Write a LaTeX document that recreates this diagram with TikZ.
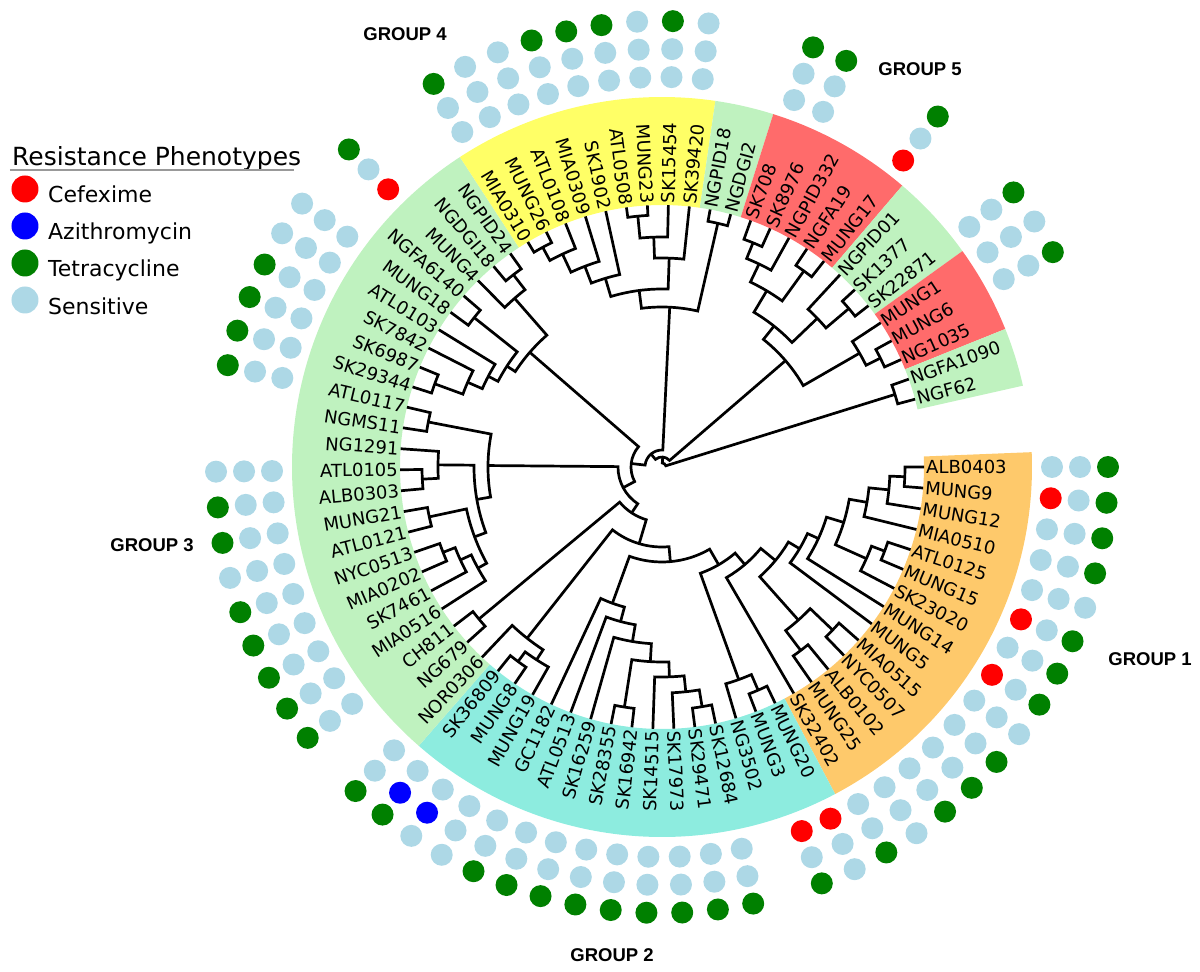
\documentclass[tikz,border=0pt]{standalone}
\usepackage{fontspec}
\setmainfont{DejaVu Sans}
\newfontfamily\grpfont{Liberation Sans}
\usetikzlibrary{calc}

\definecolor{bandorange}{HTML}{FEC96B}
\definecolor{bandcyan}{HTML}{8DECDF}
\definecolor{bandgreen}{HTML}{BFF2BF}
\definecolor{bandyellow}{HTML}{FFFF66}
\definecolor{bandred}{HTML}{FF6B6B}
\definecolor{dotS}{HTML}{ADD8E6}
\definecolor{dotT}{HTML}{008000}
\definecolor{dotC}{HTML}{FF0000}
\definecolor{dotA}{HTML}{0000FF}

% \clade{name}{radius}{child a}{child b}
\newcommand{\clade}[4]{%
  \pgfmathsetmacro\cla{\csname angl#3\endcsname}%
  \pgfmathsetmacro\clb{\csname angl#4\endcsname}%
  \pgfmathsetmacro\clm{(\cla+\clb)/2}%
  \edef\clra{\csname radl#3\endcsname}%
  \edef\clrb{\csname radl#4\endcsname}%
  \draw[branch] (\cla:\clra pt) -- (\cla:#2pt) arc[start angle=\cla, end angle=\clb, radius=#2pt] -- (\clb:\clrb pt);%
  \expandafter\xdef\csname angl#1\endcsname{\clm}%
  \expandafter\xdef\csname radl#1\endcsname{#2}%
  \coordinate (#1) at (\clm:#2pt);}

\begin{document}
\begin{tikzpicture}[x=1pt,y=1pt,
  branch/.style={line width=2.7pt},
  leaflabel/.style={font=\fontsize{18}{18}\selectfont, inner sep=0pt},
  grouplabel/.style={font=\grpfont\bfseries\fontsize{18.5}{20}\selectfont},
  legtext/.style={font=\fontsize{22}{22}\selectfont, anchor=base west, inner sep=0pt}]
  \useasboundingbox (-662,-505) rectangle (538,467);

  % bands
  \foreach \ia/\ib/\col in {0/13/bandorange, 14/28/bandcyan, 29/51/bandgreen, 52/60/bandyellow,
      61/62/bandgreen, 63/67/bandred, 68/70/bandgreen, 71/73/bandred, 74/75/bandgreen}{
    \pgfmathsetmacro\aa{-4.6*\ia+2.3}
    \pgfmathsetmacro\ab{-4.6*\ib-2.3}
    \fill[\col] (\aa:262pt) arc[start angle=\aa, end angle=\ab, radius=262pt]
      -- (\ab:370pt) arc[start angle=\ab, end angle=\aa, radius=370pt] -- cycle;
  }

  % leaves
  \foreach \nm [count=\k from 0] in {ALB0403,MUNG9,MUNG12,MIA0510,ATL0125,MUNG15,SK23020,MUNG14,MUNG5,
      MIA0515,NYC0507,ALB0102,MUNG25,SK32402,MUNG20,MUNG3,NG3502,SK12684,SK29471,SK17973,SK14515,
      SK16942,SK28355,SK16259,ATL0513,GC1182,MUNG19,MUNG8,SK36809,NOR0306,NG679,CH811,MIA0516,
      SK7461,MIA0202,NYC0513,ATL0121,MUNG21,ALB0303,ATL0105,NG1291,NGMS11,ATL0117,SK29344,SK6987,
      SK7842,ATL0103,MUNG18,NGFA6140,MUNG4,NGDGI18,NGPID24,MIA0310,MUNG26,ATL0108,MIA0309,SK1902,
      ATL0508,MUNG23,SK15454,SK39420,NGPID18,NGDGI2,SK708,SK8976,NGPID332,NGFA19,MUNG17,NGPID01,
      SK1377,SK22871,MUNG1,MUNG6,NG1035,NGFA1090,NGF62}{
    \pgfmathsetmacro\th{-4.6*\k}
    \expandafter\xdef\csname angll\k\endcsname{\th}
    \expandafter\xdef\csname radll\k\endcsname{262}
    \coordinate (l\k) at (\th:262pt);
    \pgfmathtruncatemacro\isleft{and(\th<-90,\th>-270)}
    \ifnum\isleft=1
      \pgfmathsetmacro\thr{\th+180}
      \node[leaflabel, anchor=east, rotate=\thr] (lab\k) at (\th:264pt) {\nm};
    \else
      \node[leaflabel, anchor=west, rotate=\th] (lab\k) at (\th:264pt) {\nm};
    \fi
  }

  % group 1
  \clade{a1}{243}{l0}{l1}
  \clade{a2}{228}{a1}{l2}
  \clade{a3}{208}{a2}{l3}
  \clade{a4}{238}{l4}{l5}
  \clade{a5}{224}{a4}{l6}
  \clade{a6}{190}{a3}{a5}
  \clade{a7}{172}{a6}{l7}
  \clade{a8}{160}{a7}{l8}
  \clade{a9}{236}{l9}{l10}
  \clade{a10}{230}{l11}{l12}
  \clade{a11}{205}{a9}{a10}
  \clade{a12}{147}{a8}{a11}
  \clade{a13}{128}{a12}{l13}
  \clade{b1}{243}{l14}{l15}
  \clade{b2}{226}{b1}{l16}
  \clade{b3}{113}{a13}{b2}
  % group 2
  \clade{c1}{243}{l17}{l18}
  \clade{c2}{226}{c1}{l19}
  \clade{c3}{210}{c2}{l20}
  \clade{c4}{243}{l21}{l22}
  \clade{c5}{195}{c3}{c4}
  \clade{c6}{177}{c5}{l23}
  \clade{c7}{160}{c6}{l24}
  \clade{c8}{145}{c7}{l25}
  \clade{c9}{95}{b3}{c8}
  \clade{d1}{242}{l27}{l28}
  \clade{d2}{230}{l26}{d1}
  \clade{d3}{218}{d2}{l29}
  \clade{c10}{80}{c9}{d3}
  % group 3
  \clade{e1}{238}{l30}{l31}
  \clade{r1}{55}{c10}{e1}
  \clade{k1}{240}{l38}{l39}
  \clade{k2}{224}{k1}{l40}
  \clade{k3}{238}{l36}{l37}
  \clade{k4}{235}{l34}{l35}
  \clade{k5}{222}{l33}{k4}
  \clade{k6}{210}{l32}{k5}
  \clade{k7}{200}{k6}{k3}
  \clade{k8}{188}{k7}{k2}
  \clade{k9}{238}{l41}{l42}
  \clade{k10}{174}{k8}{k9}
  \clade{r2}{44}{r1}{k10}
  \clade{u1}{243}{l50}{l51}
  \clade{u2}{224}{l49}{u1}
  \clade{u3}{240}{l47}{l48}
  \clade{u4}{242}{l43}{l44}
  \clade{u5}{212}{l45}{u4}
  \clade{u6}{196}{l46}{u5}
  \clade{u7}{185}{u6}{u3}
  \clade{u8}{175}{u7}{u2}
  \clade{r3}{31}{r2}{u8}
  % group 4
  \clade{y1}{252}{l57}{l58}
  \clade{y2}{230}{y1}{l59}
  \clade{y3}{209}{y2}{l60}
  \clade{y4}{250}{l52}{l53}
  \clade{y5}{235}{y4}{l54}
  \clade{y6}{215}{y5}{l55}
  \clade{y7}{197}{y6}{l56}
  \clade{y8}{178}{y7}{y3}
  \clade{g1}{250}{l61}{l62}
  \clade{y9}{160}{y8}{g1}
  \clade{r4}{17}{r3}{y9}
  % group 5
  \clade{s1}{242}{l63}{l64}
  \clade{s2}{225}{s1}{l65}
  \clade{s3}{242}{l66}{l67}
  \clade{s4}{205}{s2}{s3}
  \clade{s5}{245}{l69}{l70}
  \clade{s6}{215}{l68}{s5}
  \clade{s7}{180}{s4}{s6}
  \clade{s8}{244}{l72}{l73}
  \clade{s9}{228}{l71}{s8}
  \clade{s10}{163}{s7}{s9}
  \clade{r5}{10}{r4}{s10}
  \clade{f1}{244}{l74}{l75}
  \clade{root}{4}{r5}{f1}

  % phenotype dots
  \foreach \i/\pa/\pb/\pc in {0/S/S/T, 1/C/S/T, 2/S/S/T, 3/S/S/T, 4/S/S/S, 5/C/S/T, 6/S/S/T, 7/C/S/T,
      8/S/S/S, 9/S/S/T, 10/S/S/T, 11/S/S/T, 12/S/S/S, 13/S/S/T, 14/C/S/S, 15/C/S/T,
      17/S/S/T, 18/S/S/T, 19/S/S/T, 20/S/S/T, 21/S/S/T, 22/S/S/T, 23/S/S/T, 24/S/S/T, 25/S/S/T,
      26/S/S/S, 27/S/A/S, 28/S/A/T, 29/S/S/T, 31/S/S/T, 32/S/S/T, 33/S/S/T, 34/S/S/T, 35/S/S/T,
      36/S/S/S, 37/S/S/T, 38/S/S/T, 39/S/S/S, 42/S/S/T, 43/S/S/T, 44/S/S/T, 45/S/S/T, 46/S/S/S,
      47/S/S/S, 49/C/S/T, 52/S/S/T, 53/S/S/S, 54/S/S/S, 55/S/S/T, 56/S/S/T, 57/S/S/T, 58/S/S/S,
      59/S/S/T, 60/S/S/S, 63/S/S/T, 64/S/S/T, 67/C/S/T, 70/S/S/T, 71/S/S/S, 72/S/S/T}{
    \pgfmathsetmacro\th{-4.6*\i}
    \fill[dot\pa] (\th:390pt) circle[radius=11pt];
    \fill[dot\pb] (\th:418pt) circle[radius=11pt];
    \fill[dot\pc] (\th:446pt) circle[radius=11pt];
  }

  % group names
  \node[grouplabel] (grp1) at (488,-192) {GROUP 1};
  \node[grouplabel] (grp2) at (-50,-488) {GROUP 2};
  \node[grouplabel] (grp3) at (-510,-78) {GROUP 3};
  \node[grouplabel] (grp4) at (-257,433) {GROUP 4};
  \node[grouplabel] (grp5) at (258,398) {GROUP 5};

  % legend
  \node[font=\fontsize{25}{25}\selectfont, anchor=base west, inner sep=0pt] (legtitle) at (-650,301) {Resistance Phenotypes};
  \draw[black!40, line width=1.5pt] ($(legtitle.base west)+(-2,-4)$) -- ($(legtitle.base east)+(-7,-4)$);
  \fill[dotC] (-637,278) circle[radius=13.5];
  \node[legtext] (legC) at (-614,264) {Cefexime};
  \fill[dotA] (-637,241) circle[radius=13.5];
  \node[legtext] (legA) at (-614,227) {Azithromycin};
  \fill[dotT] (-637,204) circle[radius=13.5];
  \node[legtext] (legT) at (-614,190) {Tetracycline};
  \fill[dotS] (-637,167) circle[radius=13.5];
  \node[legtext] (legS) at (-614,152) {Sensitive};
\end{tikzpicture}
\end{document}
